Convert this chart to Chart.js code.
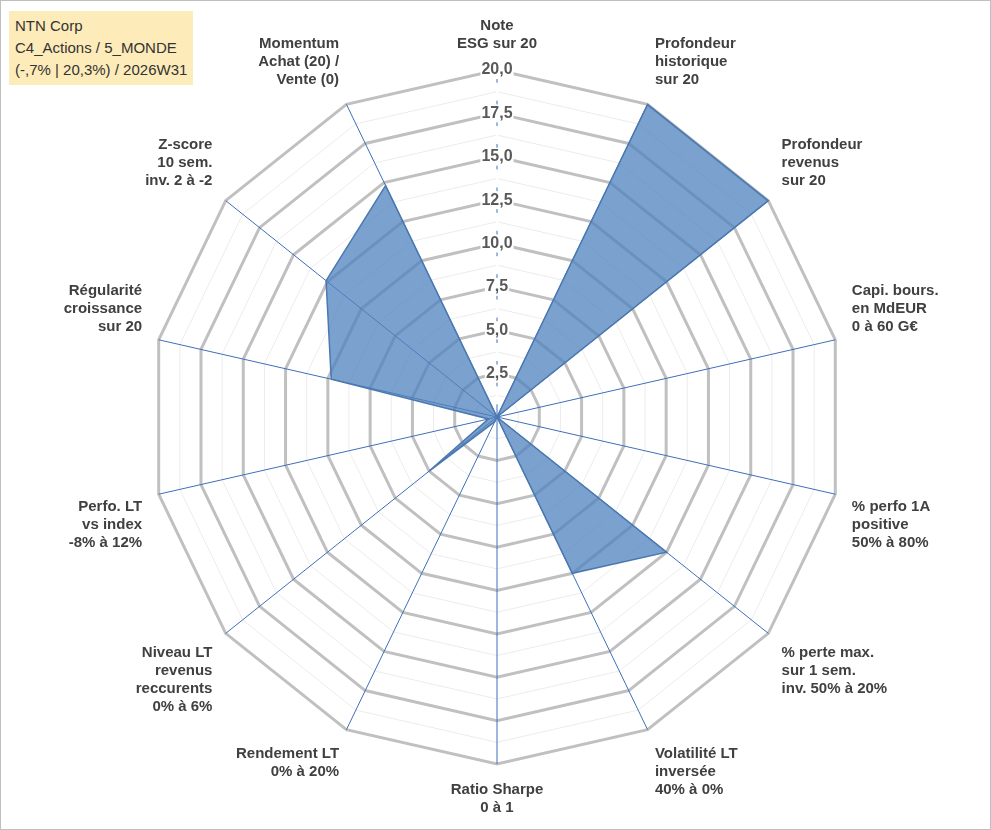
<!DOCTYPE html>
<html>
<head>
<meta charset="utf-8">
<script src="https://cdn.jsdelivr.net/npm/chart.js@4"></script>
<style>
  body { margin: 0; background: #fff; }
  #wrap { position: relative; width: 989px; height: 828px; border: 1px solid #bfbfbf; }
  #title { position: absolute; left: 8px; top: 10px; background: #fdebb9; padding: 4px 6px;
           font: 15px "Liberation Sans", Arial, sans-serif; color: #333; line-height: 22px; }
</style>
</head>
<body>
<div id="wrap">
  <canvas id="radar" width="989" height="828"></canvas>
  <div id="title">NTN Corp<br>C4_Actions / 5_MONDE<br>(-,7% | 20,3%) / 2026W31</div>
</div>
<script>
const labels = [
  ['Note', 'ESG sur 20'],
  ['Profondeur', 'historique', 'sur 20'],
  ['Profondeur', 'revenus', 'sur 20'],
  ['Capi. bours.', 'en MdEUR', '0 à 60 G€'],
  ['% perfo 1A', 'positive', '50% à 80%'],
  ['% perte max.', 'sur 1 sem.', 'inv. 50% à 20%'],
  ['Volatilité LT', 'inversée', '40% à 0%'],
  ['Ratio Sharpe', '0 à 1'],
  ['Rendement LT', '0% à 20%'],
  ['Niveau LT', 'revenus', 'reccurents', '0% à 6%'],
  ['Perfo. LT', 'vs index', '-8% à 12%'],
  ['Régularité', 'croissance', 'sur 20'],
  ['Z-score', '10 sem.', 'inv. 2 à -2'],
  ['Momentum', 'Achat (20) /', 'Vente (0)']
];
const scores = [0, 20, 20, 0, 0, 12.5, 10, 0, 0.3, 5, 0.5, 9.8, 12.6, 14.8];

new Chart(document.getElementById('radar'), {
  type: 'radar',
  data: {
    labels,
    datasets: [{
      data: scores,
      backgroundColor: 'rgba(79, 129, 189, 0.75)',
      borderColor: '#4a78b0',
      borderWidth: 1.5,
      pointRadius: 0
    }]
  },
  options: {
    responsive: false,
    animation: false,
    layout: { padding: { top: 16, bottom: 12, left: 34, right: 22 } },
    plugins: { legend: { display: false }, tooltip: { enabled: false } },
    scales: {
      r: {
        min: 0,
        max: 20,
        ticks: {
          stepSize: 1.25,
          color: '#595959',
          font: { size: 16, weight: 'bold', family: 'Liberation Sans' },
          backdropColor: '#fff',
          backdropPadding: 1,
          callback: v => (v % 2.5 === 0) ? v.toFixed(1).replace('.', ',') : ''
        },
        grid: {
          color: ctx => (ctx.tick.value % 2.5 === 0) ? '#c0c0c0' : '#ececec',
          lineWidth: ctx => (ctx.tick.value % 2.5 === 0) ? 3 : 1
        },
        angleLines: { color: '#3f6fb8', lineWidth: 1 },
        pointLabels: {
          color: '#404040',
          font: { size: 15, weight: 'bold', family: 'Liberation Sans' },
          padding: 8
        }
      }
    }
  }
});
</script>
</body>
</html>
